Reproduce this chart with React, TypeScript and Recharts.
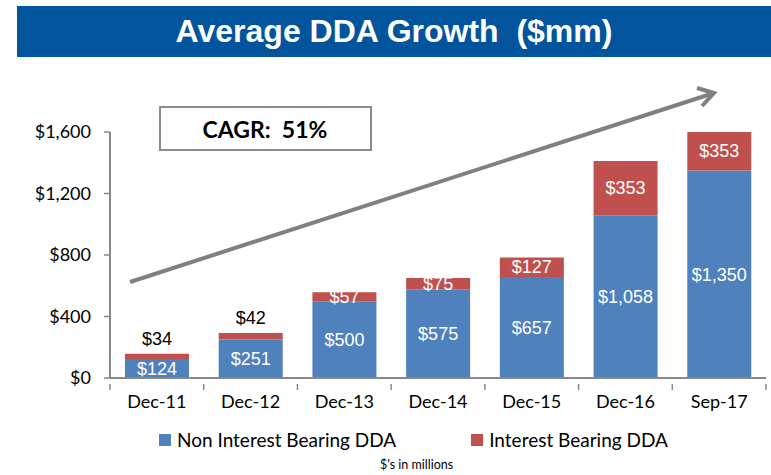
import { BarChart, Bar, XAxis, YAxis, LabelList, Legend } from 'recharts';

const CATEGORIES = ['Dec-11', 'Dec-12', 'Dec-13', 'Dec-14', 'Dec-15', 'Dec-16', 'Sep-17'];
const NON_INTEREST = [124, 251, 500, 575, 657, 1058, 1350];
const INTEREST = [34, 42, 57, 75, 127, 353, 353];
const Y_TICKS = [0, 400, 800, 1200, 1600];

const BLUE = '#4F81BD';
const RED = '#C0504D';
const AXIS = '#888888';
const CALIBRI = 'Lato, "Open Sans", sans-serif';
const ARIAL = '"Liberation Sans", Arial, sans-serif';

const MARGIN = { top: 132, right: 5, left: 0, bottom: 57 };

const data = CATEGORIES.map((label, i) => ({
  label,
  nonInterest: NON_INTEREST[i],
  interest: INTEREST[i],
}));

const money = (v: number) => `$${v.toLocaleString('en-US')}`;

// category label plus the tick marks between categories (excel style)
function CategoryTick(props: any) {
  const { x, y, payload, index, visibleTicksCount } = props;
  const half = Number(payload?.offset) || 0;
  const axisY = y - 11;
  return (
    <g>
      <line x1={x - half} y1={axisY} x2={x - half} y2={axisY + 6} stroke={AXIS} strokeWidth={1.5} />
      {index === visibleTicksCount - 1 && (
        <line x1={x + half} y1={axisY} x2={x + half} y2={axisY + 6} stroke={AXIS} strokeWidth={1.5} />
      )}
      <text x={x} y={y} dy="0.71em" textAnchor="middle" fill="#000" fontSize={18} fontFamily={CALIBRI}>
        {payload.value}
      </text>
    </g>
  );
}

// red segment labels: small ones sit above the bar in black, the rest inside in white
function InterestLabel(props: any) {
  const vb = props.viewBox || props;
  const x = Number(vb.x);
  const y = Number(vb.y);
  const w = Number(vb.width);
  const h = Number(vb.height);
  const top = Math.min(y, y + h);
  const bottom = Math.max(y, y + h);
  const cx = x + w / 2;
  if (props.value < 50) {
    return (
      <text x={cx} y={top - 15} textAnchor="middle" dominantBaseline="central" fill="#000" fontSize={18} fontFamily={ARIAL}>
        {money(props.value)}
      </text>
    );
  }
  const visTop = Math.max(top, MARGIN.top);
  return (
    <text x={cx} y={(visTop + bottom) / 2} textAnchor="middle" dominantBaseline="central" fill="#fff" fontSize={18} fontFamily={ARIAL}>
      {money(props.value)}
    </text>
  );
}

function LegendBox() {
  const item = (color: string, text: string, mr: number) => (
    <div style={{ display: 'flex', alignItems: 'center', marginRight: mr }}>
      <span style={{ width: 12, height: 12, background: color, marginRight: 6 }} />
      <span style={{ fontFamily: CALIBRI, fontSize: 19, color: '#000', whiteSpace: 'nowrap' }}>{text}</span>
    </div>
  );
  return (
    <div style={{ display: 'flex', alignItems: 'center', paddingLeft: 159 }}>
      {item(BLUE, 'Non Interest Bearing DDA', 75)}
      {item(RED, 'Interest Bearing DDA', 0)}
    </div>
  );
}

export default function App() {
  return (
    <div style={{ position: 'absolute', left: 0, top: 0, width: 771, height: 475, background: '#fff' }}>
      <div
        style={{
          position: 'absolute',
          left: 17,
          top: 6,
          width: 754,
          height: 51,
          background: '#02559C',
          color: '#fff',
          fontFamily: ARIAL,
          fontWeight: 'bold',
          fontSize: 32,
          display: 'flex',
          alignItems: 'center',
          justifyContent: 'center',
          whiteSpace: 'pre',
        }}
      >
        {'Average DDA Growth  ($mm)'}
      </div>

      <BarChart width={771} height={475} data={data} margin={MARGIN} style={{ position: 'absolute', left: 0, top: 0 }}>
        <XAxis
          dataKey="label"
          height={40}
          tickLine={false}
          axisLine={{ stroke: AXIS, strokeWidth: 2 }}
          tickMargin={11}
          tick={<CategoryTick />}
        />
        <YAxis
          width={110}
          domain={[0, 1600]}
          ticks={Y_TICKS}
          allowDataOverflow
          tickFormatter={money}
          axisLine={{ stroke: AXIS, strokeWidth: 2 }}
          tickLine={{ stroke: AXIS, strokeWidth: 1.5 }}
          tickSize={6}
          tickMargin={13}
          tick={{ fill: '#000', fontSize: 18, fontFamily: CALIBRI }}
        />
        <Legend verticalAlign="middle" align="center" layout="horizontal" content={() => <LegendBox />} wrapperStyle={{ top: 428, left: 0, width: 771 }} />
        <Bar dataKey="nonInterest" name="Non Interest Bearing DDA" stackId="a" fill={BLUE} barSize={64} isAnimationActive={false}>
          <LabelList dataKey="nonInterest" position="center" fill="#fff" fontSize={18} fontFamily={ARIAL} formatter={(v: any) => money(Number(v))} />
        </Bar>
        <Bar dataKey="interest" name="Interest Bearing DDA" stackId="a" fill={RED} barSize={64} isAnimationActive={false}>
          <LabelList dataKey="interest" content={InterestLabel} />
        </Bar>
      </BarChart>

      <svg width={771} height={475} style={{ position: 'absolute', left: 0, top: 0, pointerEvents: 'none' }}>
        <rect x={160} y={107} width={211} height={43} fill="#fff" stroke="#8C8C8C" strokeWidth={2} />
        <text x={265} y={129} textAnchor="middle" dominantBaseline="central" fontFamily={CALIBRI} fontWeight="bold" fontSize={23} fill="#000" style={{ whiteSpace: 'pre' }}>
          {'CAGR:  51%'}
        </text>
        <line x1={130} y1={282} x2={714} y2={93} stroke="#808080" strokeWidth={4} />
        <polyline points="697,88 714,93 702,106" fill="none" stroke="#808080" strokeWidth={4} strokeLinejoin="miter" />
      </svg>

      <div style={{ position: 'absolute', left: 380, top: 457, fontFamily: CALIBRI, fontSize: 12.5, color: '#000', whiteSpace: 'nowrap' }}>
        $'s in millions
      </div>
    </div>
  );
}
